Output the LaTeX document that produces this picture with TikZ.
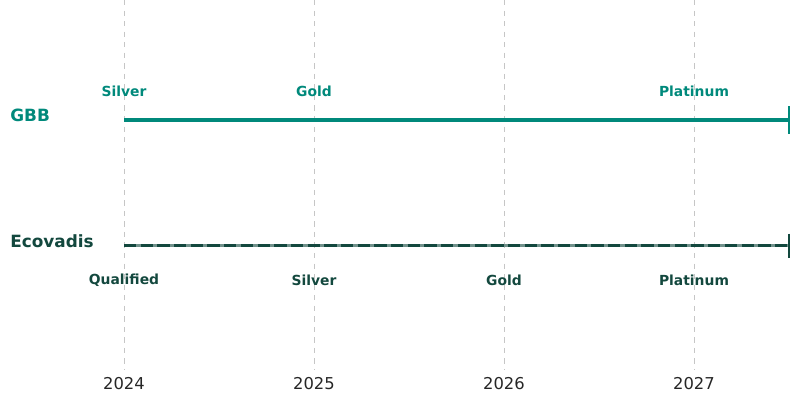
\documentclass[tikz,border=0pt]{standalone}
\usepackage{fontspec}
\setmainfont{DejaVu Sans}
\usepackage{xcolor}
\usetikzlibrary{positioning}

\definecolor{gbbteal}{RGB}{0,137,123}
\definecolor{ecodark}{RGB}{19,72,62}

\begin{document}
\begin{tikzpicture}[
    x=0.02cm, y=-0.02cm,
    % Define simple, standard styles
    grid/.style={gray!45, dashed, line width=0.4pt},
    year/.style={font=\fontsize{9.3}{11}\selectfont, text=black!85, anchor=center},
    rowname/.style={font=\fontsize{9.6}{11}\selectfont\bfseries, anchor=west, inner sep=0pt},
    level/.style={font=\fontsize{7.9}{9}\selectfont\bfseries, anchor=center, inner sep=1pt},
    gbbline/.style={gbbteal, line width=1.9pt},
    ecoline/.style={ecodark, line width=1.9pt},
    endtick/.style={line width=1pt}
]
\useasboundingbox (0,0) rectangle (799,403);

% 1. Vertical grid and year labels
\foreach \yr [count=\i from 0] in {2024,2025,2026,2027} {
    \draw[grid] (124+190*\i,0) -- (124+190*\i,370);
    \node[year] (y\yr) at (124+190*\i,384) {\yr};
}

% 2. GBB row
\node[rowname, text=gbbteal] (gbb) at (10,115) {GBB};
\coordinate (gbbstart) at (124,120);
\coordinate (gbbend) at (789,120);
\draw[gbbline] (gbbstart) -- (gbbend);
\draw[endtick, gbbteal] (gbbend) ++(0,-14) -- ++(0,28);
\node[level, text=gbbteal] (gsilver) at (124,91) {Silver};
\node[level, text=gbbteal] (ggold) at (314,91) {Gold};
\node[level, text=gbbteal] (gplat) at (694,91) {Platinum};

% 3. Ecovadis row
\node[rowname, text=ecodark] (eco) at (10,241) {Ecovadis};
\coordinate (ecostart) at (124,245.5);
\coordinate (ecoend) at (789,245.5);
\draw[ecodark!60, line width=1.2pt] (ecostart) -- (ecoend);
\draw[ecoline, dash pattern=on 7pt off 2.5pt] (ecostart) -- (ecoend);
\draw[endtick, ecodark] (ecoend) ++(0,-12) -- ++(0,24);
\node[level, text=ecodark] (equal) at (124,280) {Qualified};
\node[level, text=ecodark] (esilver) at (314,280) {Silver};
\node[level, text=ecodark] (egold) at (504,280) {Gold};
\node[level, text=ecodark] (eplat) at (694,280) {Platinum};

\end{tikzpicture}
\end{document}
